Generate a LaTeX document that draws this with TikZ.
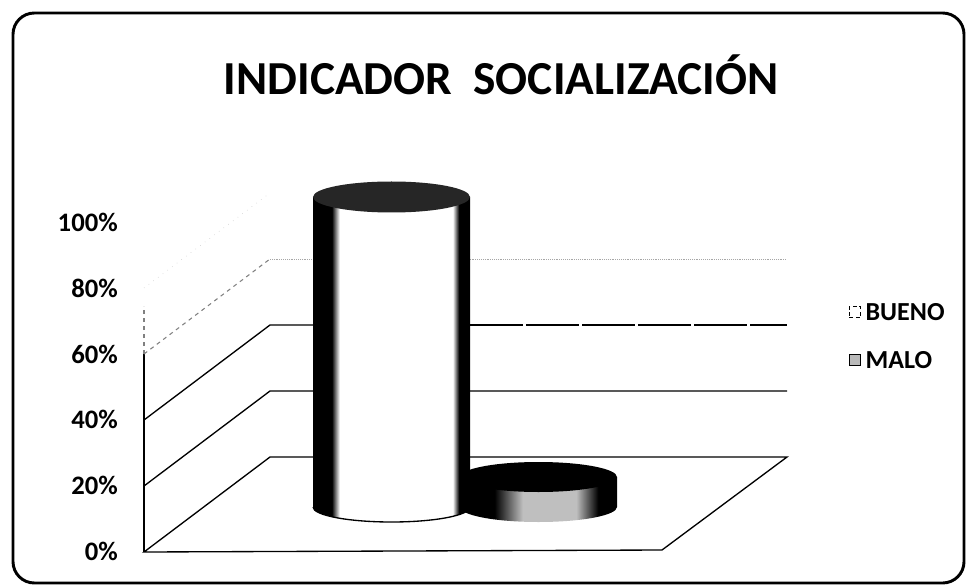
\documentclass[tikz,border=0pt]{standalone}
\usepackage{fontspec}
\setmainfont{Carlito}
\usetikzlibrary{positioning}

% side shadings of the cylinders (25bp..75bp covers the path)
\pgfdeclarehorizontalshading{cylside}{100bp}{color(0bp)=(black); color(31bp)=(black); color(33.5bp)=(white); color(69.5bp)=(white); color(71.5bp)=(black); color(100bp)=(black)}
\pgfdeclarehorizontalshading{diskside}{100bp}{color(0bp)=(black); color(36bp)=(black); color(45bp)=(black!25); color(62bp)=(black!25); color(69bp)=(black); color(100bp)=(black)}

\begin{document}
\begin{tikzpicture}[x=0.75pt, y=0.75pt,
    frame/.style={line width=2.2pt, rounded corners=16pt},
    gridline/.style={line width=1pt},
    worn/.style={line width=0.9pt, dash pattern=on 40pt off 2pt},
    faint/.style={line width=0.8pt, gray, dashed},
    tick/.style={anchor=base east, inner sep=0pt, font=\fontsize{20}{24}\selectfont\bfseries},
    key/.style={inner sep=0pt, font=\fontsize{19.5}{23}\selectfont\bfseries},
    swatch/.style={minimum size=8.5pt, inner sep=0pt, line width=1pt}]
    \useasboundingbox (0,0) rectangle (969,586);

    % Frame
    \draw[frame] (13,3) rectangle (964,573);

    % Title
    \node[anchor=base, inner sep=0pt, font=\fontsize{35.5}{40}\selectfont\bfseries] (title) at (501,491) {INDICADOR\ \ SOCIALIZACIÓN};

    % Axis labels
    \foreach \v [count=\i from 0] in {0,20,40,60,80,100}
        \node[tick] (lab\v) at (118, {26+65.6*\i}) {\v\%};

    % Walls and floor
    \coordinate (f0) at (144,34);
    \coordinate (b0) at (270,129);
    \coordinate (r0) at (787,129);
    \coordinate (fr) at (662,36);
    \draw[gridline] (f0) -- (fr) -- (r0) -- (b0) -- cycle;
    \draw[gridline] (f0) -- (144,232);
    \draw[faint] (144,232) -- (144,280);
    \draw[gridline] (144,100) -- (270,195) -- (787,195);
    \draw[gridline] (144,166) -- (270,261) -- (470,261);
    \draw[worn] (470,261) -- (787,261);
    \draw[faint] (144,232) -- (270,327);
    \draw[gray!70, densely dotted] (270,327) -- (787,327);
    \draw[gray!50, loosely dotted] (144,298) -- (270,393);

    % MALO disk
    \shade[shading=diskside] (460,109) -- (460,79) arc[start angle=180, end angle=360, x radius=78.5, y radius=15] -- (617,109) -- cycle;
    \fill[black] (538.5,109) ellipse [x radius=78.5, y radius=15];

    % BUENO cylinder
    \shade[shading=cylside] (313,389) -- (313,79) arc[start angle=180, end angle=360, x radius=78.5, y radius=15] -- (470,389) -- cycle;
    \draw[line width=1pt] (313,79) arc[start angle=180, end angle=360, x radius=78.5, y radius=15];
    \fill[black!85] (391.5,389) ellipse [x radius=78.5, y radius=15.5];

    % Legend
    \node[swatch, draw, densely dashed, fill=white] (bueno) at (855,274) {};
    \node[key, right=3pt of bueno] (buenolab) {BUENO};
    \node[swatch, draw, fill=gray!55] (malo) at (855,226) {};
    \node[key, right=3pt of malo] (malolab) {MALO};
\end{tikzpicture}
\end{document}
